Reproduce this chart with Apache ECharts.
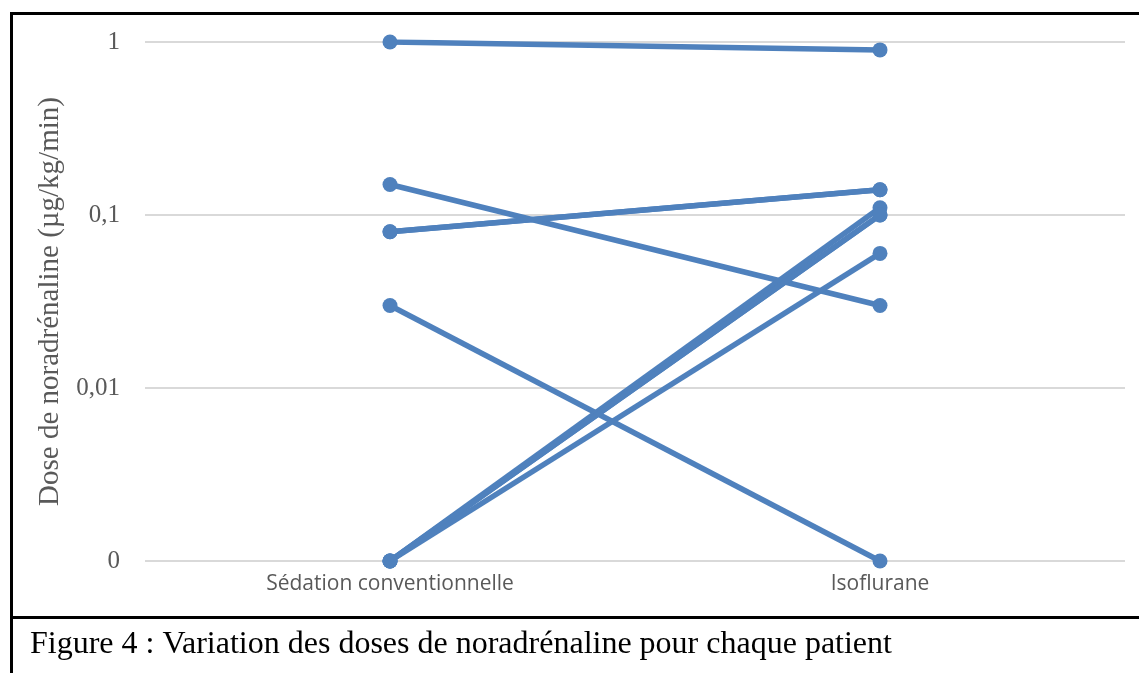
<!DOCTYPE html>
<html>
<head>
<meta charset="utf-8">
<script src="https://cdn.jsdelivr.net/npm/echarts@6/dist/echarts.min.js"></script>
<style>html,body{margin:0;padding:0;background:#fff;}#c{width:1139px;height:673px;}</style>
</head>
<body>
<div id="c"></div>
<script>
// Categories (x axis)
var categories = ['Sédation conventionnelle', 'Isoflurane'];
// Patients: [Sédation conventionnelle, Isoflurane]; 0 is drawn at 0.001 (log axis bottom)
var patient1 = [1, 0.9];
var patient2 = [0.15, 0.03];
var patient3 = [0.08, 0.14];
var patient4 = [0.08, 0.14];
var patient5 = [0.03, 0];
var patient6 = [0, 0.11];
var patient7 = [0, 0.1];
var patient8 = [0, 0.1];
var patient9 = [0, 0.06];
var patients = [patient1, patient2, patient3, patient4, patient5, patient6, patient7, patient8, patient9];
// Tick labels
var tickValues = [0.001, 0.01, 0.1, 1];
var tickLabels = ['0', '0,01', '0,1', '1'];
var zeroValue = 0.001;

var color = '#4F81BD';
var series = patients.map(function (p) {
  return {
    type: 'line',
    data: p.map(function (v) { return v === 0 ? zeroValue : v; }),
    symbol: 'circle',
    symbolSize: 15,
    lineStyle: { width: 5.5, color: color },
    itemStyle: { color: color },
    emphasis: { disabled: true },
    z: 3
  };
});

var chart = echarts.init(document.getElementById('c'));
chart.setOption({
  animation: false,
  grid: { left: 145, right: 14, top: 42, bottom: 112, containLabel: false },
  xAxis: {
    type: 'category',
    data: categories,
    boundaryGap: true,
    axisLine: { show: false },
    axisTick: { show: false },
    axisLabel: { fontFamily: '"Open Sans", sans-serif', fontSize: 21, color: '#595959', margin: 13 }
  },
  yAxis: {
    type: 'log',
    logBase: 10,
    min: 0.001,
    max: 1,
    name: 'Dose de noradrénaline (µg/kg/min)',
    nameLocation: 'middle',
    nameGap: 80,
    nameTextStyle: { fontFamily: '"Liberation Serif", "Times New Roman", serif', fontSize: 29, color: '#595959' },
    axisLine: { show: false },
    axisTick: { show: false },
    splitLine: { lineStyle: { color: '#D9D9D9', width: 2 } },
    axisLabel: {
      fontFamily: '"Liberation Serif", "Times New Roman", serif',
      fontSize: 25,
      color: '#595959',
      margin: 25,
      formatter: function (v) {
        for (var i = 0; i < tickValues.length; i++) {
          if (Math.abs(Math.log10(v) - Math.log10(tickValues[i])) < 1e-6) return tickLabels[i];
        }
        return '';
      }
    }
  },
  series: series,
  graphic: [
    { type: 'rect', shape: { x: 10, y: 12, width: 1140, height: 3 }, style: { fill: '#000' }, silent: true },
    { type: 'rect', shape: { x: 10, y: 12, width: 3, height: 670 }, style: { fill: '#000' }, silent: true },
    { type: 'rect', shape: { x: 10, y: 616, width: 1140, height: 3 }, style: { fill: '#000' }, silent: true },
    { type: 'text', left: 30, top: 629, style: { text: 'Figure 4 : Variation des doses de noradrénaline pour chaque patient', fontFamily: '"Liberation Serif", "Times New Roman", serif', fontSize: 32, fill: '#000' }, silent: true }
  ]
});
</script>
</body>
</html>
